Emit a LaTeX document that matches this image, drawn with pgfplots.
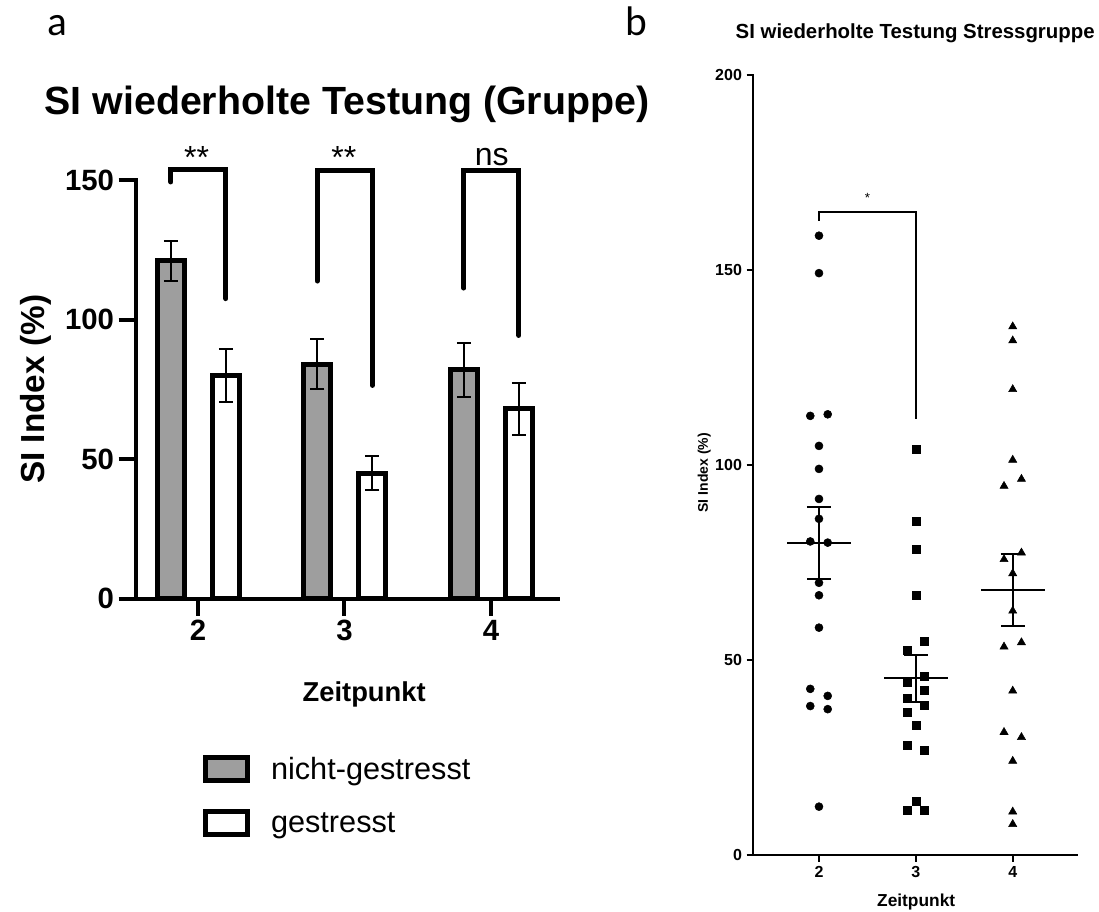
\documentclass[border=0pt]{standalone}
\usepackage{fontspec}
\setmainfont{Liberation Sans}
\newfontfamily\panelfont{Carlito}
\usepackage{pgfplots}
\pgfplotsset{compat=1.18}

\definecolor{barfill}{gray}{0.62}

\begin{document}
\begin{tikzpicture}
\path[use as bounding box] (0,0) rectangle (824.25pt,-683.25pt);

% panel letters
\node[anchor=base west, inner sep=0pt, font=\panelfont\fontsize{31}{31}\selectfont] at (35.25pt,-26.25pt) {a};
\node[anchor=base west, inner sep=0pt, font=\panelfont\fontsize{31}{31}\selectfont] at (469pt,-26.25pt) {b};

% ---------- (a) group means with SEM ----------
\begin{axis}[
  at={(101.78pt,-448.95pt)}, anchor=south west,
  scale only axis, width=316.7pt, height=313.95pt,
  xmin=1.575, xmax=4.457, ymin=0, ymax=150,
  clip=false,
  axis x line*=bottom, axis y line*=left,
  axis line style={line width=3pt, line cap=rect},
  xtick={2,3,4}, ytick={0,50,100,150},
  tick align=outside, major tick length=12.75pt,
  major tick style={line width=3pt, black},
  /pgf/number format/assume math mode=true,
  ticklabel style={font=\bfseries\fontsize{22}{22}\selectfont},
  title={SI wiederholte Testung (Gruppe)},
  title style={at={(0.5,1.1364)}, anchor=base, font=\bfseries\fontsize{29.5}{30}\selectfont},
  xlabel={Zeitpunkt},
  xlabel style={at={(0.541,-0.2446)}, anchor=base, font=\bfseries\fontsize{20.5}{20.5}\selectfont},
  ylabel={SI Index (\%)},
  ylabel style={at={(-0.2157,0.5)}, anchor=base, font=\bfseries\fontsize{25}{25}\selectfont},
  legend cell align=left,
  legend style={at={(0.158,-0.372)}, anchor=north west, draw=none, fill=none,
    inner sep=0pt, row sep=19pt, font=\fontsize{23}{23}\selectfont,
    /tikz/every odd column/.append style={column sep=14pt}},
]
\addplot[ybar, bar width=0.184, bar shift=0pt, fill=barfill, draw=black, line width=3.75pt,
  legend image code/.code={\draw[fill=barfill, draw=black, line width=3.75pt] (0pt,-8.6pt) rectangle (31.5pt,8.6pt);},
  error bars/.cd, y dir=both, y explicit,
  error bar style={line width=1.5pt, black},
  error mark options={rotate=90, line width=1.5pt, mark size=5.25pt, black}]
  coordinates {(1.815,121) +- (0,7.2) (2.815,84) +- (0,9) (3.815,82) +- (0,9.6)};
\addlegendentry{nicht-gestresst}
\addplot[ybar, bar width=0.184, bar shift=0pt, fill=white, draw=black, line width=3.75pt,
  legend image code/.code={\draw[fill=white, draw=black, line width=3.75pt] (0pt,-8.6pt) rectangle (31.5pt,8.6pt);},
  error bars/.cd, y dir=both, y explicit,
  error bar style={line width=1.5pt, black},
  error mark options={rotate=90, line width=1.5pt, mark size=5.25pt, black}]
  coordinates {(2.19,80) +- (0,9.5) (3.19,45) +- (0,6) (4.19,68) +- (0,9.4)};
\addlegendentry{gestresst}

% significance brackets
\draw[line width=3.75pt, line cap=round, line join=miter]
  (axis cs:1.815,149.3) -- (axis cs:1.815,153.8) -- (axis cs:2.19,153.8) -- (axis cs:2.19,107.5);
\draw[line width=3.75pt, line cap=round, line join=miter]
  (axis cs:2.815,113.8) -- (axis cs:2.815,153.3) -- (axis cs:3.19,153.3) -- (axis cs:3.19,76.4);
\draw[line width=3.75pt, line cap=round, line join=miter]
  (axis cs:3.815,111.3) -- (axis cs:3.815,153.3) -- (axis cs:4.19,153.3) -- (axis cs:4.19,94.3);
\node[anchor=base, inner sep=0pt, font=\fontsize{24}{24}\selectfont] at (axis cs:1.99,154) {**};
\node[anchor=base, inner sep=0pt, font=\fontsize{24}{24}\selectfont] at (axis cs:2.995,154) {**};
\node[anchor=base, inner sep=0pt, font=\fontsize{24}{24}\selectfont] at (axis cs:4.005,155.1) {ns};
\end{axis}

% ---------- (b) individual values, stress group ----------
\begin{axis}[
  at={(564.98pt,-641.25pt)}, anchor=south west,
  scale only axis, width=242.8pt, height=585pt,
  xmin=1.322, xmax=4.664, ymin=0, ymax=200,
  clip=false,
  axis x line*=bottom, axis y line*=left,
  axis line style={line width=1.5pt, line cap=rect},
  xtick={2,3,4}, ytick={0,50,100,150,200},
  tick align=outside, major tick length=5pt,
  major tick style={line width=1.5pt, black},
  /pgf/number format/assume math mode=true,
  ticklabel style={font=\bfseries\fontsize{12}{12}\selectfont},
  title={SI wiederholte Testung Stressgruppe},
  title style={at={(0.5,1.0363)}, anchor=base, font=\bfseries\fontsize{15.3}{16}\selectfont},
  xlabel={Zeitpunkt},
  xlabel style={at={(0.503,-0.0654)}, anchor=base, font=\bfseries\fontsize{13}{13}\selectfont},
  ylabel={SI Index (\%)},
  ylabel style={at={(-0.14,0.49)}, anchor=base, font=\bfseries\fontsize{10.5}{10.5}\selectfont},
]
% Zeitpunkt 2
\addplot[only marks, mark=*, mark size=3pt, black] coordinates {
  (2,158.8) (2,149.2) (1.91,112.6) (2.09,113.0) (2,104.9) (2,99.0)
  (2,91.3) (2,86.2) (1.91,80.4) (2.09,80.1) (2,69.8) (2,66.6)
  (2,58.3) (1.91,42.6) (2.09,40.8) (1.91,38.2) (2.09,37.4) (2,12.4)};
% Zeitpunkt 3
\addplot[only marks, mark=square*, mark size=3pt, black] coordinates {
  (3,104.1) (3,85.5) (3,78.5) (3,66.7) (3.09,54.7) (2.91,52.6)
  (3.09,45.9) (2.91,44.4) (3.09,42.3) (2.91,40.3) (3.09,38.5) (2.91,36.5)
  (3,33.3) (2.91,28.2) (3.09,26.8) (3,13.8) (2.91,11.4) (3.09,11.4)};
% Zeitpunkt 4
\addplot[only marks, mark=triangle*, mark size=3.5pt, black] coordinates {
  (4,135.5) (4,131.9) (4,119.4) (4,101.3) (4.09,96.4) (3.91,94.6)
  (4.09,77.5) (3.91,75.8) (4,72.2) (4,62.6) (4.09,54.5) (3.91,53.4)
  (4,42.1) (3.91,31.5) (4.09,30.2) (4,24.1) (4,11.1) (4,7.9)};
% mean with SEM
\addplot[only marks, black, mark=-, mark size=24pt, mark options={line width=1.5pt},
  error bars/.cd, y dir=both, y explicit,
  error bar style={line width=1.5pt, black},
  error mark options={rotate=90, line width=1.5pt, mark size=9pt, black}]
  coordinates {(2,80.1) +- (0,9.2) (3,45.3) +- (0,6.0) (4,67.9) +- (0,9.3)};

\draw[line width=1.5pt] (axis cs:2,162.6) -- (axis cs:2,164.9) -- (axis cs:3,164.9) -- (axis cs:3,111.8);
\node[anchor=center, inner sep=0pt, font=\fontsize{10}{10}\selectfont] at (axis cs:2.5,168.5) {*};
\end{axis}
\end{tikzpicture}
\end{document}
